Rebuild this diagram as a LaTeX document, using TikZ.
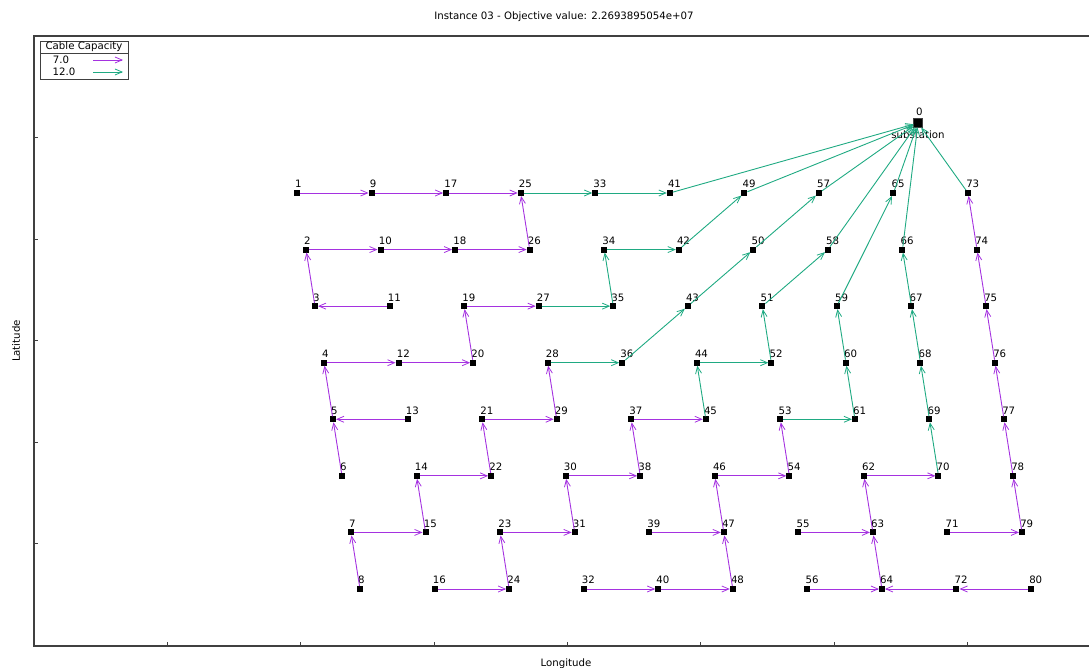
\documentclass[tikz,border=0pt]{standalone}
\usepackage{fontspec}
\setmainfont{DejaVu Sans}
\usetikzlibrary{arrows.meta,calc}
\definecolor{capA}{HTML}{A532E0}
\definecolor{capB}{HTML}{1FAA82}
\definecolor{frm}{HTML}{404040}
\tikzset{
  nd/.style={draw=none,fill=black,minimum size=6pt,inner sep=0pt,outer sep=0pt,rectangle},
  subst/.style={draw=frm,fill=black,line width=0.8pt,minimum size=9pt,inner sep=0pt,outer sep=0pt,rectangle},
  lbl/.style={inner sep=0pt,font=\fontsize{10.2}{12}\selectfont,anchor=base west},
  txt/.style={inner sep=0pt,font=\fontsize{10.2}{12}\selectfont},
  tip/.style={-{Straight Barb[length=7pt,width=6pt,line width=0.8pt]}},
  ca/.style={tip,draw=capA,line width=0.9pt},
  cb/.style={tip,draw=capB,line width=0.9pt},
  frame/.style={draw=frm,line width=1.2pt},
  tick/.style={draw=frm,line width=0.8pt},
}
\begin{document}
\begin{tikzpicture}[x=1pt,y=-1pt]
\useasboundingbox (0,0) rectangle (1089,668);
% title and axis labels
\node[txt] (title) at (564,17) {Instance 03 - Objective value: 2.2693895054e+07};
\node[txt,rotate=90] (ylab) at (16,341) {Latitude};
\node[txt,anchor=north] (xlab) at (566,659) {Longitude};
% frame
\draw[frame] (1095,36) -- (34,36) -- (34,646) -- (1095,646);
\foreach \ty in {137,239,340,442,543} \draw[tick] (34,\ty) -- (38,\ty);
\foreach \tx in {167,300,434,567,700,834,967} \draw[tick] (\tx,646) -- (\tx,642);
% nodes
\foreach \c in {0,...,9} {
  \foreach \r in {0,...,7} {
    \pgfmathtruncatemacro\n{\c*8+\r+1}
    \node[nd] (n\n) at ({297+74.56*\c+9*\r},{193+56.57*\r}) {};
    \node[lbl] (l\n) at ([shift={(-2,-5)}]n\n.center) {\n};
  }
}
\node[subst] (n0) at (918,123) {};
\node[lbl] (l0) at ([shift={(-2,-7)}]n0.center) {0};
\node[txt] (sublbl) at (918,135) {substation};
% cable capacity 7.0
\foreach \a/\b in {1/9,9/17,17/25,26/25,2/10,10/18,18/26,3/2,11/3,4/12,12/20,20/19,19/27,5/4,13/5,6/5,7/15,15/14,14/22,22/21,21/29,29/28,8/7,16/24,24/23,23/31,31/30,30/38,38/37,37/45,32/40,40/48,48/47,39/47,47/46,46/54,54/53,55/63,56/64,72/64,80/72,64/63,63/62,62/70,71/79,79/78,78/77,77/76,76/75,75/74,74/73}
  \draw[ca] (n\a) -- (n\b);
% cable capacity 12.0
\foreach \a/\b in {25/33,33/41,41/0,27/35,35/34,34/42,42/49,49/0,28/36,36/43,43/50,50/57,57/0,45/44,44/52,52/51,51/58,58/0,53/61,61/60,60/59,59/65,65/0,70/69,69/68,68/67,67/66,66/0,73/0}
  \draw[cb] (n\a) -- (n\b);
% legend
\node[draw=frm,line width=0.8pt,minimum width=88pt,minimum height=38pt,inner sep=0pt,anchor=north west] (key) at (40,41) {};
\draw[draw=frm,line width=0.8pt] (key.west |- 0,53) coordinate (kl) -- (key.east |- 0,53) coordinate (kr);
\node[txt] (keyhead) at (84,47) {Cable Capacity};
\node[txt] (k7) at (61,60) {7.0};
\node[txt] (k12) at (64,72) {12.0};
\coordinate (k7a) at (93,60); \coordinate (k7b) at (123,60);
\coordinate (k12a) at (93,72); \coordinate (k12b) at (123,72);
\draw[ca] (k7a) -- (k7b);
\draw[cb] (k12a) -- (k12b);
\end{tikzpicture}
\end{document}
